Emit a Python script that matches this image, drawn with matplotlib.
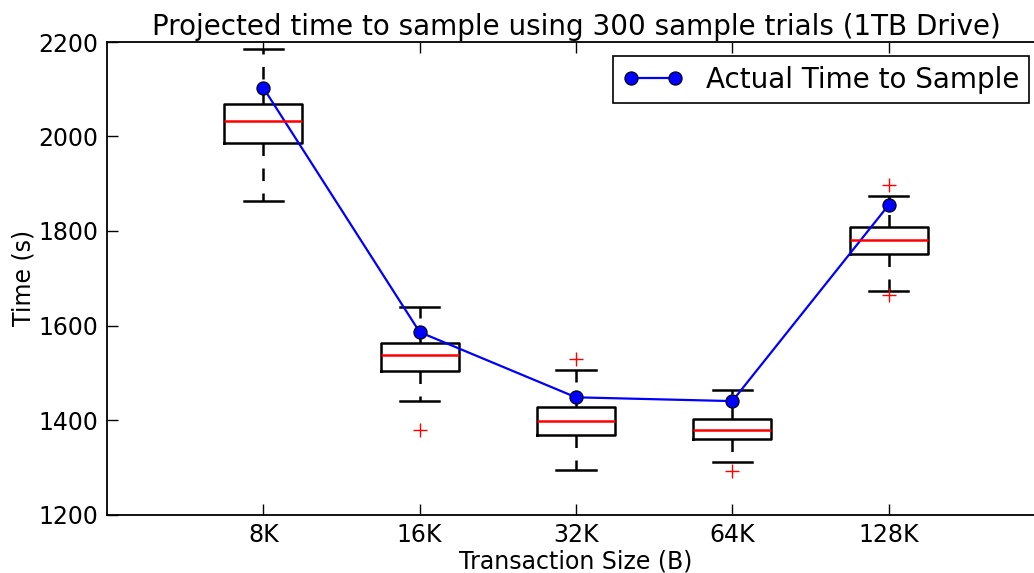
import matplotlib
matplotlib.use("Agg")
import matplotlib.pyplot as plt

categories = ["8K", "16K", "32K", "64K", "128K"]
whislo = [1863, 1440, 1295, 1312, 1672]
q1 = [1986, 1503, 1368, 1360, 1751]
med = [2033, 1537, 1398, 1379, 1780]
q3 = [2069, 1564, 1427, 1402, 1808]
whishi = [2185, 1639, 1506, 1463, 1874]
fliers = [[], [1378], [1530], [1292], [1897, 1664]]
actual = [2103, 1586, 1448, 1440, 1855]

plt.rcParams['font.family'] = ['DejaVu Sans']
fig = plt.figure(figsize=(10.34, 5.73), dpi=100)
ax = fig.add_axes([107/1034, 1 - 514.5/573, (1045 - 107)/1034, (514.5 - 42)/573])

positions = list(range(1, len(categories) + 1))
stats = []
for i in range(len(categories)):
    stats.append(dict(whislo=whislo[i], q1=q1[i], med=med[i], q3=q3[i],
                      whishi=whishi[i], fliers=fliers[i]))

ax.bxp(stats, positions=positions, widths=0.5, patch_artist=False,
       boxprops=dict(color='black', linewidth=1.8),
       medianprops=dict(color='red', linewidth=1.8),
       whiskerprops=dict(color='black', linewidth=1.8, linestyle=(0, (5, 5))),
       capprops=dict(color='black', linewidth=1.8),
       flierprops=dict(marker='+', markeredgecolor='red', markersize=10,
                       markeredgewidth=1, linestyle='none'))

ax.plot(positions, actual, '-o', color='blue', markersize=9.5,
        markeredgecolor='black', markeredgewidth=0.8, linewidth=1.6,
        label='Actual Time to Sample')

ax.set_xlim(0, 6)
ax.set_ylim(1200, 2200)
ax.set_xticks(positions)
ax.set_xticklabels(categories)
ax.set_yticks([1200, 1400, 1600, 1800, 2000, 2200])
ax.tick_params(direction='in', length=8, width=1, labelsize=17, top=True, right=True, pad=6)
for s in ax.spines.values():
    s.set_linewidth(1.3)

ax.set_title('Projected time to sample using 300 sample trials (1TB Drive)', fontsize=20, pad=5)
ax.set_xlabel('Transaction Size (B)', fontsize=17, labelpad=2)
ax.set_ylabel('Time (s)', fontsize=17, labelpad=2)

leg = ax.legend(loc='upper right', bbox_to_anchor=(1029/1034, 1 - 56/573),
                bbox_transform=fig.transFigure, fontsize=20, fancybox=False,
                framealpha=1, edgecolor='black', borderaxespad=0, numpoints=2,
                handlelength=2.2, borderpad=0.35)
leg.get_frame().set_linewidth(1.2)

fig.savefig('out.png', dpi=100)
